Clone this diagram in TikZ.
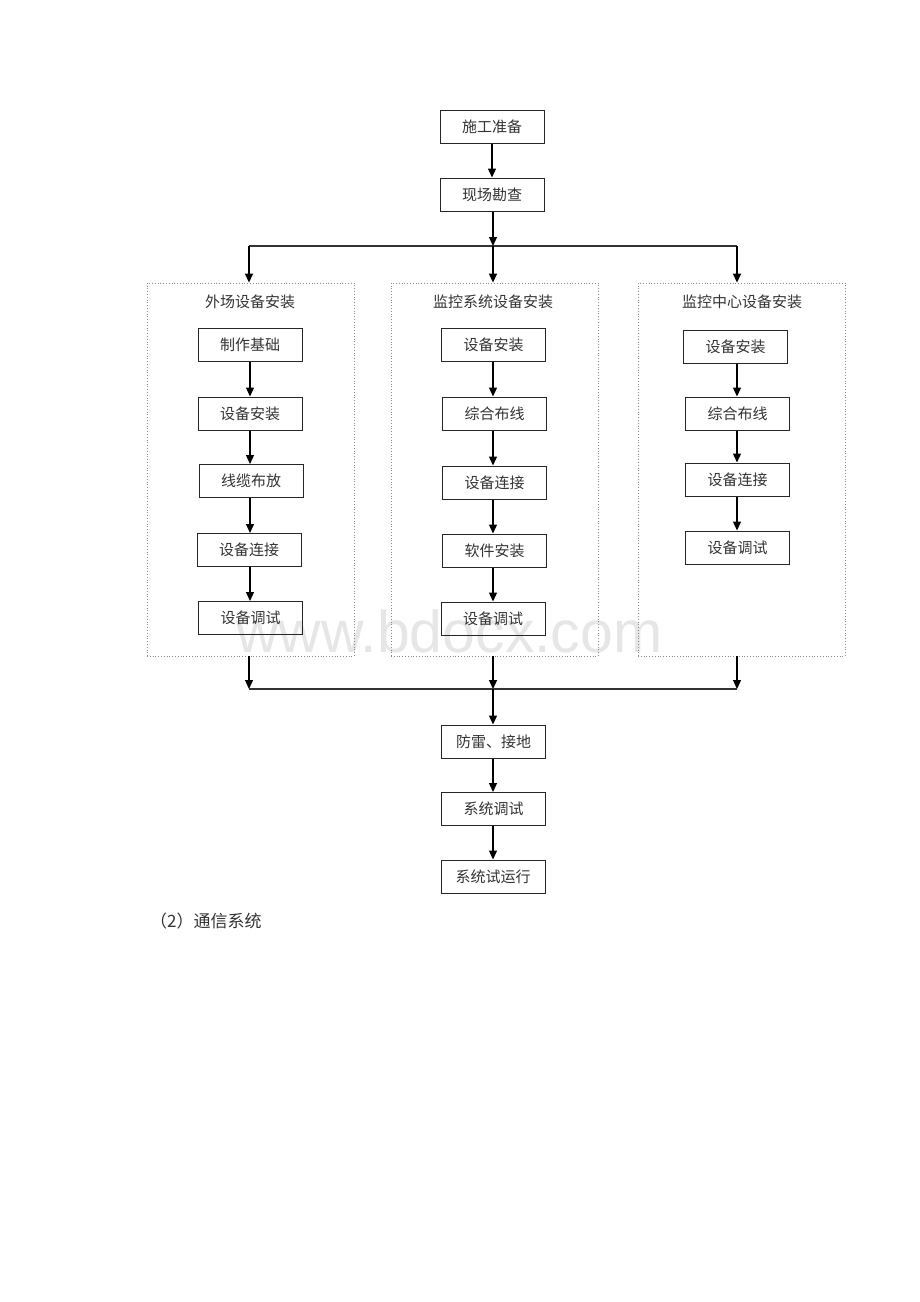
\documentclass[tikz,border=0pt]{standalone}
\usepackage{fontspec}
\setmainfont{Noto Sans CJK SC}
\newfontfamily\wmfont{Liberation Sans}
\usetikzlibrary{arrows.meta}
\definecolor{txt}{HTML}{333333}
\definecolor{wmgray}{HTML}{E6E6E6}
\definecolor{framegray}{HTML}{8A8A8A}
\begin{document}
\begin{tikzpicture}[x=1pt,y=-1pt,
  box/.style={draw=black!85, line width=1pt, minimum width=104pt, minimum height=33pt, inner sep=0pt,
    font=\fontsize{15}{17}\selectfont, text=txt},
  frame/.style={draw=framegray, dotted, line width=0.8pt, minimum width=207pt, minimum height=373pt, inner sep=0pt},
  ttl/.style={font=\fontsize{15}{17}\selectfont, text=txt, inner sep=0pt},
  arr/.style={line width=1.3pt, draw=black, -{Triangle[length=9pt,width=8pt]}},
  ln/.style={line width=1.2pt, draw=black!80}]
\useasboundingbox (0,0) rectangle (920,1302);
% watermark
\node[anchor=base west, inner sep=0pt, text=wmgray, font=\wmfont\fontsize{59}{60}\selectfont] (wm) at (236,652) {www.bdocx.com};
% top
\node[box] (a) at (492,126.5) {施工准备};
\node[box] (b) at (492,194.5) {现场勘查};
\coordinate (t0) at (493,246);
\coordinate (tl) at (249,246);
\coordinate (tr) at (737,246);
\coordinate (lx) at (250,0);
% frames
\node[frame] (L) at (250.5,469.5) {};
\node[frame] (M) at (494.5,469.5) {};
\node[frame] (R) at (741.5,469.5) {};
\node[ttl] (lt) at (250,302) {外场设备安装};
\node[ttl] (mt) at (493,302) {监控系统设备安装};
\node[ttl] (rt) at (742,302) {监控中心设备安装};
% left column
\node[box] (l1) at (250,344.5) {制作基础};
\node[box] (l2) at (250,413.5) {设备安装};
\node[box] (l3) at (251,481) {线缆布放};
\node[box] (l4) at (249,550) {设备连接};
\node[box] (l5) at (250.5,618) {设备调试};
% middle column
\node[box] (m1) at (493.5,344.5) {设备安装};
\node[box] (m2) at (494.5,413.5) {综合布线};
\node[box] (m3) at (494.5,482.5) {设备连接};
\node[box] (m4) at (494.5,550.5) {软件安装};
\node[box] (m5) at (493,618.5) {设备调试};
% right column
\node[box] (r1) at (735.5,346.5) {设备安装};
\node[box] (r2) at (737.5,413.5) {综合布线};
\node[box] (r3) at (737.5,479.5) {设备连接};
\node[box] (r4) at (737.5,547.5) {设备调试};
% bottom
\coordinate (u0) at (493,689);
\coordinate (ul) at (249,689);
\coordinate (ur) at (737,689);
\node[box] (c1) at (493.5,741.5) {防雷、接地};
\node[box] (c2) at (493.5,809) {系统调试};
\node[box] (c3) at (493,876.5) {系统试运行};
\node[anchor=west, inner sep=0pt, text=txt, font=\fontsize{17}{19}\selectfont] (sec) at (150,921) {（2）通信系统};
% connectors top
\draw[arr] (a.south) -- (a.south|-b.north);
\draw[arr] (b.south-|t0) -- (t0);
\draw[ln] (tl) -- (tr);
\draw[arr] (tl) -- (tl|-L.north);
\draw[arr] (t0) -- (t0|-M.north);
\draw[arr] (tr) -- (tr|-R.north);
% column connectors
\foreach \p/\q in {l1/l2,l2/l3,l3/l4,l4/l5}{\draw[arr] (\p.south-|lx) -- (lx|-\q.north);}
\foreach \p/\q in {m1/m2,m2/m3,m3/m4,m4/m5}{\draw[arr] (\p.south-|t0) -- (t0|-\q.north);}
\foreach \p/\q in {r1/r2,r2/r3,r3/r4}{\draw[arr] (\p.south-|tr) -- (tr|-\q.north);}
% bottom connectors
\draw[arr] (ul|-L.south) -- (ul);
\draw[arr] (u0|-M.south) -- (u0);
\draw[arr] (ur|-R.south) -- (ur);
\draw[ln] (ul) -- (ur);
\draw[arr] (u0) -- (u0|-c1.north);
\draw[arr] (c1.south-|u0) -- (u0|-c2.north);
\draw[arr] (c2.south-|u0) -- (u0|-c3.north);
\end{tikzpicture}
\end{document}
